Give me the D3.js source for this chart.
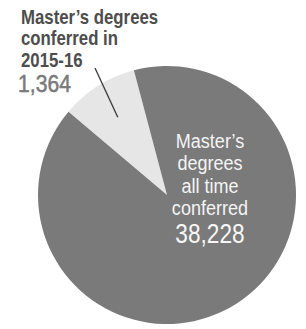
<!DOCTYPE html>
<html>
<head>
<meta charset="utf-8">
<script src="https://cdn.jsdelivr.net/npm/d3@7"></script>
<style>
  html, body { margin: 0; padding: 0; background: #fff; }
  svg { display: block; }
</style>
</head>
<body>
<svg id="chart"></svg>
<script>
// Data
const categories = ["Master's degrees conferred in 2015-16", "Master's degrees all time conferred"];
const counts = [1364, 38228];
// the printed pie is not drawn to scale, so slice sizes are what the picture shows (percent)
const shownShare = [9.7, 90.3];
const sliceColors = ['#e6e6e6', '#7a7a7a'];

const width = 306, height = 329;
const cx = 167, cy = 195, radius = 129;
const startDeg = -49.8; // edge of the light slice, clockwise from 12 o'clock

const svg = d3.select('#chart')
    .attr('width', width)
    .attr('height', height);

const fmt = d3.format(',');

const pie = d3.pie()
    .sort(null)
    .value(d => d)
    .startAngle(startDeg * Math.PI / 180)
    .endAngle(startDeg * Math.PI / 180 + 2 * Math.PI);

const arcs = pie(shownShare);
const arc = d3.arc().innerRadius(0).outerRadius(radius);

const g = svg.append('g').attr('transform', `translate(${cx},${cy})`);

g.selectAll('path')
    .data(arcs)
    .enter()
    .append('path')
    .attr('d', arc)
    .attr('fill', (d, i) => sliceColors[i]);

// leader line from the small slice out to its label
const small = arcs[0];
const inner = d3.arc().innerRadius(92).outerRadius(92).centroid(small);
svg.append('line')
    .attr('x1', cx + inner[0])
    .attr('y1', cy + inner[1])
    .attr('x2', 95)
    .attr('y2', 68)
    .attr('stroke', '#3a3a3a')
    .attr('stroke-width', 1.3);

// no narrow font installed, so squeeze the text horizontally
const font = "'Liberation Sans', Arial, sans-serif";

// top-left label
const topLabel = svg.append('g').attr('transform', 'translate(21,0) scale(0.84,1)');
topLabel.selectAll('text')
    .data(['Master\u2019s degrees', 'conferred in', '2015-16'])
    .enter()
    .append('text')
    .attr('x', 0)
    .attr('y', (d, i) => 24 + i * 21.5)
    .attr('font-family', font)
    .attr('font-weight', 'bold')
    .attr('font-size', 20)
    .attr('fill', '#4d4d4d')
    .text(d => d);

svg.append('g').attr('transform', 'translate(18,0) scale(0.92,1)')
    .append('text')
    .attr('x', 0)
    .attr('y', 92)
    .attr('font-family', font)
    .attr('font-size', 23)
    .attr('stroke', '#7a7a7a')
    .attr('stroke-width', 0.5)
    .attr('fill', '#7a7a7a')
    .text(fmt(counts[0]));

// label inside the big slice
const innerLabel = svg.append('g').attr('transform', 'translate(210,0) scale(0.86,1)');
innerLabel.selectAll('text')
    .data(['Master\u2019s', 'degrees', 'all time', 'conferred'])
    .enter()
    .append('text')
    .attr('x', 0)
    .attr('y', (d, i) => 148 + i * 22.5)
    .attr('text-anchor', 'middle')
    .attr('font-family', font)
    .attr('font-size', 21)
    .attr('fill', '#f4f4f4')
    .text(d => d);

svg.append('g').attr('transform', 'translate(210,0) scale(0.84,1)')
    .append('text')
    .attr('x', 0)
    .attr('y', 243)
    .attr('text-anchor', 'middle')
    .attr('font-family', font)
    .attr('font-size', 27)
    .attr('fill', '#f7f7f7')
    .text(fmt(counts[1]));
</script>
</body>
</html>
